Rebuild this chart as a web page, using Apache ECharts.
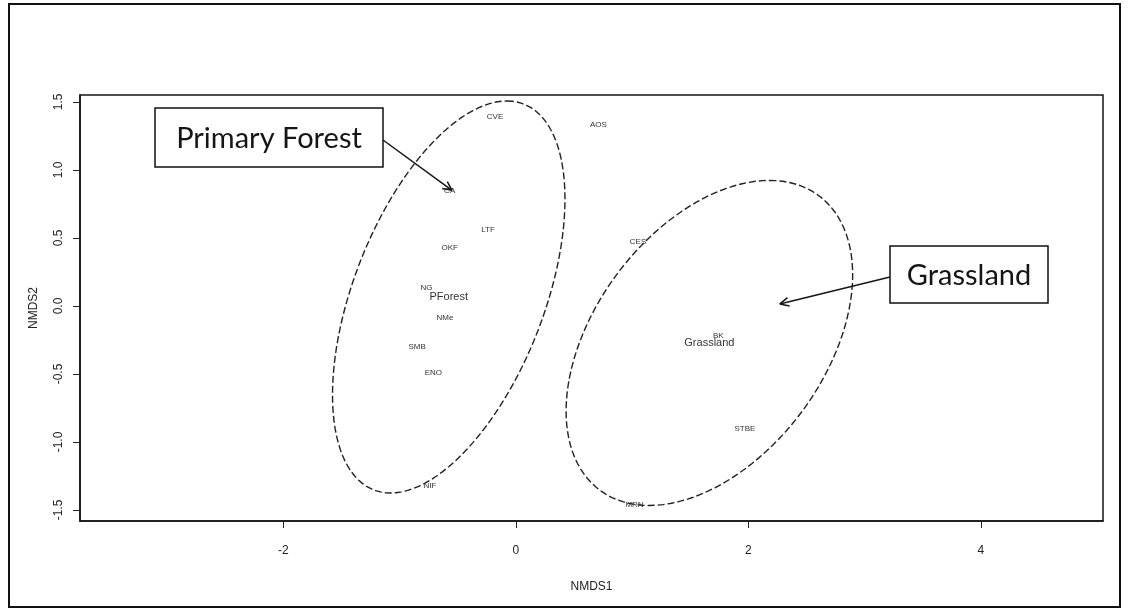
<!DOCTYPE html>
<html>
<head>
<meta charset="utf-8">
<script src="https://cdn.jsdelivr.net/npm/echarts@6/dist/echarts.min.js"></script>
<style>
  html, body { margin: 0; padding: 0; background: #fff; }
  #chart { width: 1129px; height: 616px; }
</style>
</head>
<body>
<div id="chart"></div>
<script>
// Site scores on the first two NMDS axes
const siteNames = ['CVE', 'AOS', 'CA', 'LTF', 'OKF', 'NG', 'NMe', 'SMB', 'ENO', 'NIF', 'CES', 'BK', 'STBE', 'MRN'];
const siteNMDS1 = [-0.18, 0.71, -0.57, -0.24, -0.57, -0.77, -0.61, -0.85, -0.71, -0.74, 1.05, 1.74, 1.97, 1.02];
const siteNMDS2 = [1.39, 1.33, 0.85, 0.56, 0.43, 0.13, -0.09, -0.30, -0.49, -1.32, 0.47, -0.22, -0.90, -1.46];

// Group centroids
const groupNames = ['PForest', 'Grassland'];
const groupNMDS1 = [-0.578, 1.664];
const groupNMDS2 = [0.066, -0.272];

// Group dispersion ellipses as two conjugate semi-diameters:
// u = (uX, uY) through the top of the ellipse, v = (vX, 0) through its widest point
const ellipseUX = [0.50, 0.517];
const ellipseUY = [1.441, 1.195];
const ellipseVX = [0.866, 1.119];

// Axis ticks
const xTicks = [-2, 0, 2, 4];
const yTicks = [-1.5, -1.0, -0.5, 0.0, 0.5, 1.0, 1.5];

// Callout targets (data coordinates) and callout text
const calloutText = ['Primary Forest', 'Grassland'];
const calloutTipX = [-0.55, 2.27];
const calloutTipY = [0.85, 0.015];

const chart = echarts.init(document.getElementById('chart'));

const siteData = siteNames.map((n, i) => [siteNMDS1[i], siteNMDS2[i], n]);
const groupData = groupNames.map((n, i) => [groupNMDS1[i], groupNMDS2[i], n]);
const ellipseData = groupNames.map((n, i) => [groupNMDS1[i], groupNMDS2[i], ellipseUX[i], ellipseUY[i], ellipseVX[i]]);

const axisFont = 'Liberation Sans, Arial, sans-serif';

chart.setOption({
  animation: false,
  backgroundColor: '#fff',
  grid: {
    left: 80, right: 26, top: 95, bottom: 95,
    show: true, borderColor: '#151515', borderWidth: 1.5, backgroundColor: 'transparent'
  },
  xAxis: {
    type: 'value', min: -3.75, max: 5.05,
    name: 'NMDS1', nameLocation: 'middle', nameGap: 60,
    nameTextStyle: { fontFamily: axisFont, fontSize: 12, color: '#222' },
    axisLine: { show: true, onZero: false, lineStyle: { color: '#151515', width: 1.5 } },
    axisTick: { show: true, customValues: xTicks, length: 7, lineStyle: { color: '#222', width: 1 } },
    axisLabel: { customValues: xTicks, margin: 24, fontFamily: axisFont, fontSize: 12, color: '#222',
      formatter: v => String(v) },
    splitLine: { show: false }
  },
  yAxis: {
    type: 'value', min: -1.581, max: 1.551,
    name: 'NMDS2', nameLocation: 'middle', nameGap: 40, nameRotate: 90,
    nameTextStyle: { fontFamily: axisFont, fontSize: 12, color: '#222' },
    axisLine: { show: true, onZero: false, lineStyle: { color: '#151515', width: 1.5 } },
    axisTick: { show: true, customValues: yTicks, length: 7, lineStyle: { color: '#222', width: 1 } },
    axisLabel: { customValues: yTicks, rotate: 90, margin: 15, fontFamily: axisFont, fontSize: 12, color: '#222',
      formatter: v => v.toFixed(1) },
    splitLine: { show: false }
  },
  series: [
    {
      // Dispersion ellipses around each group centroid
      type: 'custom',
      data: ellipseData,
      silent: true,
      renderItem: function (params, api) {
        const cx = api.value(0), cy = api.value(1);
        const ux = api.value(2), uy = api.value(3), vx = api.value(4);
        const pts = [];
        for (let k = 0; k <= 120; k++) {
          const t = (k / 120) * Math.PI * 2;
          pts.push(api.coord([cx + ux * Math.cos(t) + vx * Math.sin(t), cy + uy * Math.cos(t)]));
        }
        return {
          type: 'polyline',
          shape: { points: pts },
          style: { stroke: '#222', lineWidth: 1.4, lineDash: [7, 3], fill: null }
        };
      }
    },
    {
      // Site labels
      type: 'custom',
      data: siteData,
      silent: true,
      renderItem: function (params, api) {
        const p = api.coord([api.value(0), api.value(1)]);
        return {
          type: 'text', x: p[0], y: p[1],
          style: { text: siteNames[params.dataIndex], fontFamily: axisFont, fontSize: 8,
            fill: '#333', align: 'center', verticalAlign: 'middle' }
        };
      }
    },
    {
      // Group centroid labels
      type: 'custom',
      data: groupData,
      silent: true,
      renderItem: function (params, api) {
        const p = api.coord([api.value(0), api.value(1)]);
        return {
          type: 'text', x: p[0], y: p[1],
          style: { text: groupNames[params.dataIndex], fontFamily: axisFont, fontSize: 11,
            fill: '#333', align: 'center', verticalAlign: 'middle' }
        };
      }
    }
  ]
});

// Callout boxes with arrows, plus the outer frame
const boxes = [
  { x: 155, y: 108, w: 228, h: 59, fromX: 383, fromY: 140 },
  { x: 890, y: 246, w: 158, h: 57, fromX: 890, fromY: 277 }
];
const graphics = [{
  type: 'rect', shape: { x: 9, y: 4, width: 1111, height: 603 },
  style: { fill: null, stroke: '#111', lineWidth: 2 }, silent: true
}];
boxes.forEach((b, i) => {
  graphics.push({
    type: 'rect', shape: { x: b.x, y: b.y, width: b.w, height: b.h },
    style: { fill: '#fff', stroke: '#111', lineWidth: 1.5 }, z: 10
  });
  graphics.push({
    type: 'text', x: b.x + b.w / 2, y: b.y + b.h / 2 + 1, z: 11,
    style: { text: calloutText[i], fontFamily: 'Lato, "Open Sans", sans-serif', fontSize: 29,
      fill: '#151515', align: 'center', verticalAlign: 'middle' }
  });
  const tip = chart.convertToPixel({ xAxisIndex: 0, yAxisIndex: 0 }, [calloutTipX[i], calloutTipY[i]]);
  graphics.push({
    type: 'line', z: 9, shape: { x1: b.fromX, y1: b.fromY, x2: tip[0], y2: tip[1] },
    style: { stroke: '#151515', lineWidth: 1.5 }
  });
  const ang = Math.atan2(tip[1] - b.fromY, tip[0] - b.fromX);
  const len = 10, spread = 0.45;
  [-spread, spread].forEach(s => {
    graphics.push({
      type: 'line', z: 9,
      shape: { x1: tip[0], y1: tip[1],
        x2: tip[0] - len * Math.cos(ang + s), y2: tip[1] - len * Math.sin(ang + s) },
      style: { stroke: '#151515', lineWidth: 1.5 }
    });
  });
});
chart.setOption({ graphic: graphics });
</script>
</body>
</html>
